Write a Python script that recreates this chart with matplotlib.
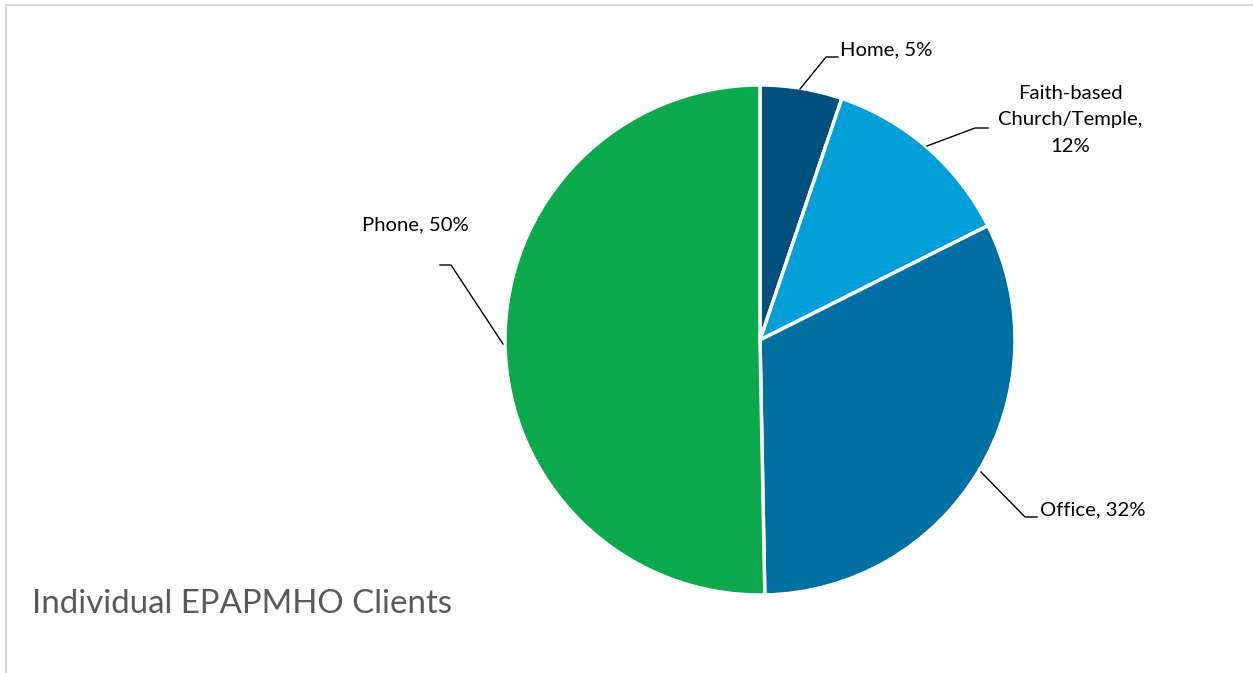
import matplotlib
matplotlib.use("Agg")
import matplotlib.pyplot as plt
from matplotlib.lines import Line2D

W, H = 1253, 673

categories = ["Home", "Faith-based Church/Temple", "Office", "Phone"]
label_names = ["Home, 5%", "Faith-based\nChurch/Temple,\n12%", "Office, 32%", "Phone, 50%"]
values = [5.2, 12.4, 32.1, 50.3]
colors = ["#004F7D", "#009FD8", "#006FA1", "#0BA84C"]

# label text anchor (px), leader line points (px)
label_pos = [(840, 50), (1070, 120), (1040, 510), (415, 225)]
label_ha = ["left", "center", "left", "center"]
leader_pts = [
    [(800, 89), (826, 57), (838, 57)],
    [(927, 146), (975, 128), (988, 128)],
    [(981, 472), (1025, 517), (1037, 517)],
    [(503, 344), (451, 265), (440, 265)],
]

cx, cy, r = 760, 340, 255

plt.rcParams['font.family'] = ['Lato', 'DejaVu Sans']
fig = plt.figure(figsize=(W / 100, H / 100), dpi=100)

ax = fig.add_axes([(cx - r) / W, (H - cy - r) / H, 2 * r / W, 2 * r / H])
ax.pie(values, colors=colors, startangle=90, counterclock=False,
       wedgeprops=dict(edgecolor="white", linewidth=2.5))
ax.set_xlim(-1, 1)
ax.set_ylim(-1, 1)
ax.set_aspect("equal")


def fx(px):
    return px / W


def fy(py):
    return 1 - py / H


for name, (tx, ty), ha, pts in zip(label_names, label_pos, label_ha, leader_pts):
    fig.text(fx(tx), fy(ty), name, ha=ha, va="center", fontsize=14.6,
             color="#000000", linespacing=1.7)
    fig.add_artist(Line2D([fx(p[0]) for p in pts], [fy(p[1]) for p in pts],
                          color="black", linewidth=1.0))

fig.text(fx(32), fy(604), "Individual EPAPMHO Clients", ha="left", va="center",
         fontsize=23.8, color="#595959")

# chart border (top and left)
fig.add_artist(Line2D([fx(6), fx(1253)], [fy(5), fy(5)], color="#D9D9D9", linewidth=1.5))
fig.add_artist(Line2D([fx(6), fx(6)], [fy(5), fy(673)], color="#D9D9D9", linewidth=1.5))

fig.savefig("out.png", dpi=100)
